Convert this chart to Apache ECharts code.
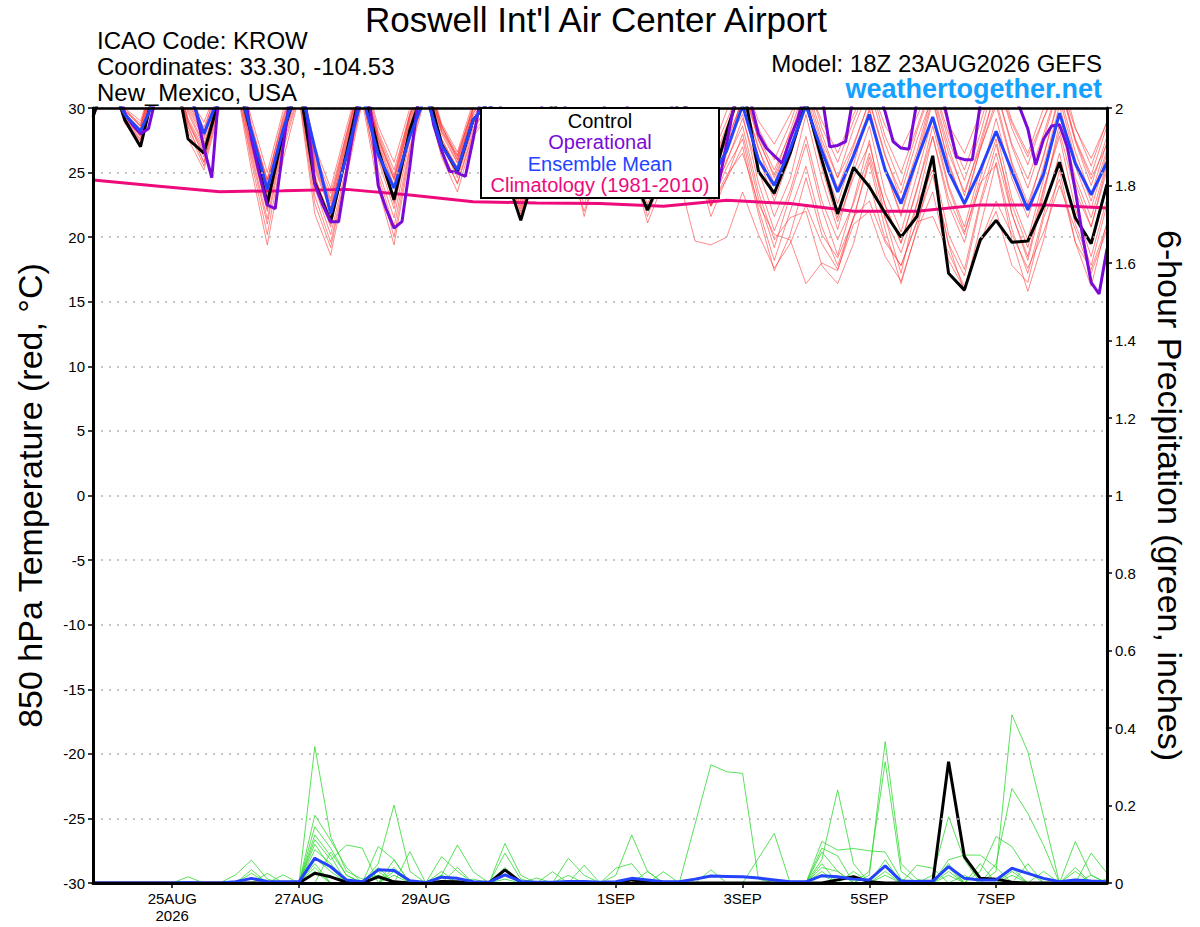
<!DOCTYPE html>
<html>
<head>
<meta charset="utf-8">
<script src="https://cdn.jsdelivr.net/npm/echarts@6/dist/echarts.min.js"></script>
<style>html,body{margin:0;padding:0;background:#fff}#c{width:1200px;height:927px}</style>
</head>
<body>
<div id="c"></div>
<script>
// ---------- DATA ----------
const titleText = "Roswell Int'l Air Center Airport";
const infoLeft = ["ICAO Code: KROW", "Coordinates: 33.30, -104.53", "New_Mexico, USA"];
const modelText = "Model: 18Z 23AUG2026 GEFS";
const siteText = "weathertogether.net";
const legendLabels = ["Control", "Operational", "Ensemble Mean", "Climatology (1981-2010)"];
const leftAxisName = "850 hPa Temperature (red, \u00B0C)";
const rightAxisName = "6-hour Precipitation (green, inches)";
// forecast hours from 18Z 23AUG2026
const xTickHours = [30, 78, 126, 198, 246, 294, 342];
const xTickLabels = ["25AUG\n2026", "27AUG", "29AUG", "1SEP", "3SEP", "5SEP", "7SEP"];

// 6-hourly 850 hPa temperature (65 points)
const controlTemp = [29.3, 33,29.1,27.0,32.2, 34,27.6,26.5,30.9, 32.8,27.9,22.6,28.1, 32.0,24.2,21.2,26.5, 32,26.8,22.9,28.3, 32,27.2,25.1,29.1, 30.5,25,21.3,25.5, 30.5,28.5,25.5,27, 30,25,22.1,25, 31,28.5,23.9,28.2, 32,25.1,23.4,26.5, 30.5,26,21.8,25.4, 23.9,21.85,20.0,21.6, 26.3,17.2,15.9,19.8, 21.3,19.6,19.7,22.4, 25.8,21.5,19.5,24.1];
const meanTemp = [30.2, 32,29.5,28.2,31, 32.5,31.5,28.0,31, 32.5,28.2,23.7,28.3, 32,26.9,21.8,26.3, 31,26.4,23.8,27.8, 31,27.1,25.2,29.1, 30.5,28,25,27.5, 30,28,26,28, 30,28,25,27.5, 30,28,24.5,26.7, 30.2,26.0,24.0,26.8, 30.2,26.7,23.5,26.3, 29.5,25.2,22.6,26.0, 29.3,25.1,22.6,25.2, 28.2,25.1,22.1,24.9, 29.6,25.7,23.3,25.8];
// operational run, 3-hourly (129 points)
const operationalTemp = [30.5,32, 33,32, 29.6,28.7, 28.0,28.4, 31,33, 34,33, 31,29.8, 26.9,24.6, 32,33, 33,32, 27.6,24.9, 22.5,22.2, 27,31.5, 33,29.5, 24.1,22.5, 21.2,21.2, 25.0,28.8, 32,30, 24.0,22.2, 20.7,21.2, 25.5,30.5, 32,28.7, 26.7,25.1, 25.0,24.7, 27.6,31, 32,31, 29,27.5, 26,26.5, 28.5,31, 32,31, 29.5,28, 27,27, 29,31, 32,31, 29,27.5, 26,25.5, 27.5,30, 31.5,30, 28,26.5, 25,24.2, 27.3,30.5, 32,30.5, 28.0,26.9, 26.3,25.7, 27.6,29.2, 31.5,32, 31,27.0, 27.1,27.4, 31,32.5, 32.5,31.5, 29.7,27.4, 26.9,26.8, 30.5,32, 33,31.5, 28.8,26.2, 26.0,26.0, 30.3,32, 32.5,32, 31,30, 28.4,25.6, 27.6,28.6, 28.7,27, 23.6,19.8, 16.5,15.6, 19.1];
// climatology, daily (17 points)
const climTemp = [24.43, 23.97, 23.52, 23.6, 23.7, 23.27, 22.75, 22.65, 22.6, 22.4, 22.85, 22.6, 22.0, 22.0, 22.5, 22.5, 22.25];

const memberTemp1 = [29.5, 33,29.6,28.4,32.5, 34,31,28.9,32, 33,28.5,24.5,29, 33,27,23.8,28.5, 33,28.2,25.2,29.5, 32.5,28.2,26.3,30.2, 32,28.5,25.6,28.8, 32,29.5,26.8,29.2, 31.5,28.6,26.4,29.5, 32,29.2,26.5,29.8, 32.5,29,27.2,29.5, 32,29,26.5,29.5, 32,28.6,26.8,29.3, 32.5,28.7,26.5,29.6, 32.2,28.8,26.2,29.2, 32,28.4,26.1,28.9];
const memberTemp2 = [29.4, 33,29.4,28.0,32.3, 33.8,29,26.2,30.5, 32.5,26.5,21.4,27.5, 31.5,23.8,20.2,25.5, 31.5,25.2,21.5,27.6, 31.8,27.3,24.6,28.5, 30.2,26.3,22.4,26.5, 29.5,26,23.5,26.5, 29,25.5,22.6,25.2, 24.5,19.7,19.4,20.0, 23.5,20.2,17.6,19.5, 22.5,19.5,17.5,21.0, 22.0,18.5,16.6,20.5, 23.5,18.2,16.0,19.5, 22.0,17.8,16.5,21.5, 24.5,19.6,17.5,21];
const memberTemp3 = [29.2, 32.8,29.2,27.6,31.8, 33.5,28.5,25.8,30.8, 33,28,23.5,28.6, 32.5,25.6,22.3,27.2, 32.2,27.8,24.5,28.8, 32.2,28,25.7,29.4, 31,27.6,23.5,27.6, 30.8,28.2,24.8,27.8, 30.6,27.8,23.8,27.3, 30.8,27.5,22.8,26.5, 31,26.8,24.2,27.8, 31.5,27.5,24.6,27.2, 30.5,26.2,23.4,27.5, 31,26.5,23.5,27, 31.5,27.2,24.5,28, 32,27.5,24.5,27.2];
const memberTemp4 = [29.6, 33.2,29.8,28.8,32.8, 34,30.2,27.8,31.5, 33.2,27.5,22.8,28, 31.8,24.5,21.6,26.8, 32,26.4,23,28.6, 32,27.6,25.4,29.8, 31.5,27.8,24.2,28.2, 30.5,27.2,23.6,27, 30.8,27.2,24.6,28, 31.2,28,25.6,27.4, 29.5,24.2,20.5,23.6, 27.8,22.8,19.8,22.6, 26.5,22.5,19.5,23.8, 27.8,23,20.2,24.6, 29.2,24.5,21.5,25.5, 30.2,25.5,22.2,26.5];
const memberTemp5 = [29.3, 32.6,29,27.4,31.5, 33.2,28.2,25.5,30.2, 32.2,25.8,20.2,26.8, 31,22.6,19.2,25, 31,24.5,20,26.8, 31.2,26.6,24.2,28.2, 30.5,26.8,22.8,27, 31,28,24.2,27.5, 30.2,27,23.5,26.4, 30,26.2,22.4,26, 28.6,23.5,19.8,21.5, 22,17.8,16.4,19.5, 24.2,19.8,17.8,21.2, 24.8,19.5,17,22.5, 26.5,21.8,18.5,23.6, 28.2,23.5,20.8,25.2];
const memberTemp6 = [29.8, 33.5,30,28.6,33, 34.5,30.5,28.2,32.2, 33.8,29.2,25,29.8, 33.2,26.5,23.4,28, 33,28.6,25.8,30, 33,28.8,26.6,30.5, 32.5,29,26,29.6, 32.6,29.8,26.9,29.5, 32,29.4,26.8,30, 32.8,30,26.2,29, 32,28.4,26,28.8, 32.5,28.5,25.8,29, 32,27.8,25,28.5, 32,28,25.2,28.8, 33,29,26.5,30, 33,28.5,25.5,29];
const memberTemp7 = [29.1, 32.5,28.8,27.2,31.6, 33,27.6,25.2,30, 32,26.2,21,27.2, 31.2,23.2,19.6,25.2, 30.8,24.8,20.8,27, 31.4,26.8,24.1,28, 29.8,25.8,21.8,26.2, 29.2,25.4,22,25.8, 29.5,25.8,21.6,25, 29.6,26.5,22.5,25.4, 27.6,22.2,18.2,22, 25.5,20.8,17.8,21.5, 25.8,20.6,16.4,20.6, 26,20.2,17.5,22.8, 27.2,22.5,19.2,23.8, 27.8,22.2,18.5,23];
const memberTemp8 = [29.5, 33,29.5,28.2,32.2, 33.8,29.6,27,31.2, 32.8,27.8,23.2,28.4, 32.2,25.2,22,27, 32.5,27.4,24,29.2, 32.2,28.4,26,29.6, 31.5,28.2,25,28.5, 31,27,21.6,26.2, 30,26.8,23,27.2, 31,27.6,23.8,27.2, 30.8,27,23.2,26.8, 30.5,25.8,21.5,25.6, 30,25.2,21.8,26.2, 30.8,25.6,22.5,26.8, 30.6,25.8,22.6,26.2, 31.2,26.6,23.2,27.4];
const memberTemp9 = [29.7, 33.4,30,29,33, 34.2,30.6,28.5,31.8, 33.5,28.8,24.2,29.2, 32.8,26,22.8,27.8, 32.5,28,24.8,29.6, 32.8,28.6,26.2,30, 32,28.3,25.2,29, 31.8,28.8,26,28.6, 31.2,28.2,25.5,28.8, 31.5,28.5,25,28.4, 32,27.5,24.8,28.2, 31.8,28,24.6,28.4, 31.5,27.2,24,28.2, 31.8,27.5,24.4,28, 32.5,28.4,25.6,29.2, 32.2,27.6,24.8,28.6];
const memberTemp10 = [29.4, 32.8,29.3,27.8,32, 33.4,29,26.6,30.6, 32.6,27,22.2,27.8, 31.6,24,20.8,26.2, 31.8,26,22.2,28, 31.6,27,24.8,28.8, 30.8,27,23,27.2, 30.2,26.8,23.2,26.8, 29.2,25.6,21.1,24.2, 28.4,25,22.4,24.5, 27,21.8,17.4,20.2, 24.6,20.2,18.4,21.4, 26.2,21.4,18.8,22.6, 25.2,19.4,15.8,20.8, 25.8,20.6,17.2,21.8, 26.5,21,17.8,22.5];
const memberTemp11 = [29.2, 32.7,29.1,27.5,31.8, 33.6,28.8,26.4,31, 32.4,26.8,22,27.6, 32,24.8,21,26.8, 32,26.6,22.6,28.2, 31.8,27.4,25,29, 30.6,26.5,22.2,26.8, 30.6,27.4,24,27.2, 30.4,27.2,23.2,26.8, 30.2,27,23.2,25.8, 29.2,25.2,21.6,24.5, 29.5,24.5,20.6,25, 28.6,23.4,20.4,24.8, 29.2,24,20.8,25.2, 28.2,23,19.8,24.5, 29.6,24.6,21.5,25.8];
const memberTemp12 = [29.6, 33.2,29.8,28.6,32.6, 34,30,27.6,31.6, 33,28.2,24,28.8, 32.6,25.8,22.6,27.6, 32.8,27.6,24.4,29.4, 32.6,28.6,26.4,30, 31.8,28,24.6,28.4, 31.6,28.4,25.4,28.2, 31.4,28.4,25.6,28.6, 31.6,28.2,24.8,28, 31.5,27.6,24.6,27.5, 31,27.2,23.8,27, 30.6,26.4,22.8,26.6, 31.2,27,23.2,27.4, 31.4,27,23.8,27.6, 31.8,27.4,24,27.8];
const memberTemp13 = [29.3, 32.9,29.2,27.8,32, 33.5,28.6,25.8,30.4, 32,25.2,19.4,26, 30.8,21.8,18.6,24.6, 30.5,23.8,19.4,26.4, 31,26.2,23.5,27.8, 29.5,25.5,22,26, 30,26.5,22.5,26.4, 29.8,26.4,23,26.2, 29.8,26,21.6,24.6, 28,23,19.2,23.2, 27.2,22.2,18.6,22.8, 27.5,21.5,17.2,22.6, 27.8,22.5,19.6,24.2, 25.6,19.8,15.8,19.8, 25.2,19.6,16.2,21.2];
const memberTemp14 = [29.5, 33.1,29.6,28.3,32.4, 33.9,29.8,27.2,31.2, 33,28.3,23.8,28.7, 32.4,25.4,22.2,27.4, 32.4,27.2,23.8,29, 32.4,28.2,25.8,29.6, 31.2,27.4,23.8,28, 31.2,28,25,27.8, 31,28,25,28.2, 31,27.8,24.2,27.6, 30.5,26.2,22.8,26.2, 30.2,26,22.6,26.6, 29.8,25.2,21.6,25.8, 30.5,25.8,22.4,26.8, 30.2,25.6,22.2,26.4, 30.8,26,22.8,26.8];
const memberTemp15 = [29.4, 32.8,29.4,28,32, 33.6,29.2,26.8,30.8, 32.6,27.2,22.4,28, 31.8,24.6,21.4,26.6, 31.6,26.2,22.8,27.8, 31.8,27.6,25.2,29.2, 30.8,27.2,23.4,27.6, 31.2,28,24.6,27.6, 30.2,27.4,23.6,27, 30.4,27.2,22.4,24.8, 26.5,22.6,20.2,19.8, 16.4,18,17.4,21.6, 22.8,19.6,17.8,21.2, 21.6,18.8,16.2,19.6, 22.8,20.2,17.6,20.4, 24,20.6,17.2,20.6];
const memberTemp16 = [29.6, 33.2,29.8,28.6,32.6, 34,30.4,28,31.8, 33.4,28.4,24.4,29.4, 32.8,26.2,23,28, 32.6,27.6,24.6,29.4, 32.6,28.6,26,30, 31.6,27.6,24.2,28.4, 31,28.2,25.2,28, 31,28,24.6,28.4, 31.2,28.4,25.4,28.6, 31.8,27.8,25.2,28, 30.4,25.4,21.2,24.6, 27.2,22.4,19.6,23.6, 28.6,23.8,20.4,24, 27.6,21.8,18.2,23.2, 28.8,24.2,20.8,25.6];
const memberTemps = [memberTemp1, memberTemp2, memberTemp3, memberTemp4, memberTemp5, memberTemp6, memberTemp7, memberTemp8, memberTemp9, memberTemp10, memberTemp11, memberTemp12, memberTemp13, memberTemp14, memberTemp15, memberTemp16];

// 6-hourly precipitation (inches, 65 points)
const controlPrecip = [0, 0,0,0,0, 0,0,0,0, 0,0,0,0, 0,0.025,0.016,0.002, 0,0.016,0.003,0, 0,0.004,0.003,0, 0,0.034,0.002,0, 0,0,0,0, 0,0.008,0.003,0, 0,0,0,0, 0,0,0,0, 0,0,0.008,0.016, 0.003,0,0,0, 0,0.313,0.068,0.012, 0.010,0.002,0,0, 0,0,0,0];
const meanPrecip = [0, 0,0,0,0, 0,0.001,0,0, 0.003,0.012,0.004,0.003, 0.003,0.064,0.042,0.008, 0.003,0.034,0.032,0.006, 0.001,0.015,0.012,0.003, 0.002,0.021,0.004,0.002, 0.002,0.004,0.004,0.002, 0.003,0.012,0.008,0.003, 0.003,0.010,0.018,0.017, 0.016,0.013,0.008,0.003, 0.003,0.019,0.016,0.010, 0.008,0.044,0.005,0.004, 0.005,0.042,0.012,0.008, 0.008,0.038,0.025,0.012, 0.003,0.008,0.005,0.003];
const memberPrecip1 = [0, 0,0,0,0, 0,0,0,0, 0,0,0,0, 0,0.352,0.12,0.03, 0.01,0.02,0.005,0, 0,0,0,0, 0,0.01,0,0, 0,0,0,0, 0,0,0,0, 0,0,0,0, 0,0,0,0, 0,0.02,0,0, 0,0.02,0,0, 0,0,0,0, 0,0,0,0, 0,0,0,0];
const memberPrecip2 = [0, 0,0,0,0, 0,0,0,0, 0,0.034,0,0, 0,0.175,0.11,0.04, 0,0.03,0,0, 0,0,0,0, 0,0,0,0, 0,0,0,0, 0,0,0,0, 0,0,0,0, 0,0,0,0, 0,0,0,0, 0,0,0,0, 0,0.03,0,0, 0.03,0.434,0.339,0.171, 0,0.01,0,0];
const memberPrecip3 = [0, 0,0,0,0, 0,0,0,0, 0,0,0,0, 0,0.145,0.09,0.02, 0,0.05,0.201,0.03, 0,0,0,0, 0,0,0,0, 0,0,0,0, 0,0,0,0, 0,0,0,0, 0,0,0,0, 0,0.03,0,0, 0.02,0.365,0.05,0.01, 0,0,0,0, 0,0,0,0, 0,0,0,0];
const memberPrecip4 = [0, 0,0,0,0, 0,0,0,0, 0,0,0.025,0, 0,0.124,0.07,0, 0,0,0,0, 0,0.02,0,0, 0,0,0,0, 0,0.02,0,0, 0,0,0,0, 0,0.152,0.305,0.287, 0.283,0.01,0,0, 0,0,0,0, 0,0,0,0, 0,0.02,0,0, 0,0,0,0, 0,0,0,0];
const memberPrecip5 = [0, 0,0,0,0, 0,0,0,0, 0,0.025,0,0, 0,0.112,0.06,0.098, 0.09,0,0.04,0, 0,0,0,0, 0,0,0,0, 0,0,0,0, 0,0,0,0, 0,0,0,0, 0,0,0,0, 0,0.06,0.24,0.05, 0,0,0,0, 0,0,0.02,0, 0,0,0,0, 0,0,0,0];
const memberPrecip6 = [0, 0,0,0,0, 0,0,0,0, 0,0,0,0, 0,0.086,0.05,0, 0,0.094,0.06,0, 0,0,0,0, 0,0.04,0,0, 0,0,0,0, 0,0,0,0, 0,0,0,0, 0,0,0,0, 0,0.04,0.03,0, 0.03,0.313,0.03,0, 0.02,0.171,0.06,0, 0,0.04,0,0, 0,0,0,0];
const memberPrecip7 = [0, 0,0,0,0, 0,0,0,0, 0.021,0.059,0.01,0, 0,0.064,0.03,0, 0,0,0,0, 0,0.02,0.098,0.029, 0,0,0,0, 0,0,0,0, 0.02,0.124,0.03,0, 0,0,0,0, 0,0,0,0, 0,0,0,0, 0,0,0,0, 0,0,0,0, 0,0.03,0,0, 0,0,0.02,0];
const memberPrecip8 = [0, 0,0,0,0, 0,0,0,0, 0,0,0,0, 0,0,0,0, 0,0,0,0, 0,0,0,0, 0,0.102,0.02,0, 0,0.064,0.02,0, 0,0,0,0, 0,0,0,0, 0,0.064,0.128,0, 0,0,0,0, 0,0,0,0, 0,0,0,0, 0.05,0.244,0.18,0.097, 0,0,0,0];
const memberPrecip9 = [0, 0,0,0,0, 0,0.016,0,0, 0,0,0,0, 0,0.03,0,0, 0,0,0.06,0, 0,0.068,0.03,0, 0,0,0,0, 0,0,0,0, 0,0,0,0, 0,0,0,0, 0,0,0,0, 0,0.107,0.085,0.089, 0.083,0.08,0.01,0, 0,0,0,0, 0,0,0,0, 0,0.03,0,0];
const memberPrecip10 = [0, 0,0,0,0, 0,0,0,0, 0,0,0,0.021, 0,0.05,0,0, 0,0,0,0.081, 0,0,0,0, 0,0,0,0, 0,0,0,0, 0.038,0.05,0,0, 0,0,0,0, 0,0,0,0, 0,0,0,0, 0,0,0,0, 0,0,0,0.03, 0.12,0.094,0.03,0, 0,0.107,0.02,0];
const memberPrecip11 = [0, 0,0,0,0, 0,0,0,0, 0,0,0,0, 0,0,0.08,0.02, 0,0,0.03,0, 0,0,0,0.01, 0,0,0,0, 0,0,0.046,0, 0,0,0.03,0, 0,0,0,0, 0,0,0,0, 0,0.05,0,0, 0,0,0,0, 0,0.06,0.072,0.072, 0.04,0,0,0, 0,0,0.077,0.025];
const memberPrecip12 = [0, 0,0,0,0, 0,0,0,0, 0,0,0,0, 0,0.04,0,0, 0,0.02,0,0, 0,0,0,0, 0,0.077,0.01,0, 0.029,0,0,0, 0,0,0,0.029, 0,0,0.034,0, 0,0,0,0, 0,0,0,0.03, 0,0,0,0.046, 0.038,0,0,0, 0,0,0.05,0, 0,0,0,0.01];
const memberPrecip13 = [0, 0,0,0,0, 0,0,0,0, 0,0,0,0, 0,0,0,0, 0,0,0.02,0, 0,0,0.04,0, 0,0,0,0.013, 0,0,0,0, 0,0,0,0, 0,0,0,0, 0,0,0,0, 0,0.08,0.03,0, 0,0.06,0,0, 0,0.04,0,0, 0,0.02,0,0.03, 0,0,0,0];
const memberPrecip14 = [0, 0,0,0,0, 0,0,0,0, 0,0,0,0, 0,0.1,0.04,0, 0,0.04,0,0, 0,0.03,0,0, 0,0,0,0, 0,0,0,0, 0,0,0,0, 0,0,0,0, 0,0,0,0, 0,0.09,0.07,0, 0,0.03,0,0, 0,0.05,0,0.05, 0,0,0,0, 0,0.04,0,0];
const memberPrecips = [memberPrecip1, memberPrecip2, memberPrecip3, memberPrecip4, memberPrecip5, memberPrecip6, memberPrecip7, memberPrecip8, memberPrecip9, memberPrecip10, memberPrecip11, memberPrecip12, memberPrecip13, memberPrecip14];

// ---------- CHART ----------
const FONT = '"Liberation Sans", Arial, Helvetica, sans-serif';
const C_CONTROL = '#000000', C_OPER = '#7a0ad8', C_MEAN = '#2443ff', C_CLIM = '#ee0a7c';
const C_RED = 'rgba(255,50,50,0.72)', C_GREEN = 'rgba(40,215,40,0.85)';

const withHours = (arr, step) => arr.map((v, i) => [i * step, v]);

const series = [];
memberTemps.forEach((m, k) => series.push({
  name: 'tmem' + k, type: 'line', yAxisIndex: 0, data: withHours(m, 6),
  symbol: 'none', lineStyle: { color: C_RED, width: 0.8 }, z: 2, silent: true
}));
memberPrecips.forEach((m, k) => series.push({
  name: 'pmem' + k, type: 'line', yAxisIndex: 1, data: withHours(m, 6),
  symbol: 'none', lineStyle: { color: C_GREEN, width: 0.9 }, z: 2, silent: true
}));
series.push({ name: 'clim', type: 'line', yAxisIndex: 0, data: withHours(climTemp, 24), symbol: 'none', lineStyle: { color: C_CLIM, width: 3 }, z: 3 });
series.push({ name: 'controlP', type: 'line', yAxisIndex: 1, data: withHours(controlPrecip, 6), symbol: 'none', lineStyle: { color: C_CONTROL, width: 3 }, z: 4 });
series.push({ name: 'meanP', type: 'line', yAxisIndex: 1, data: withHours(meanPrecip, 6), symbol: 'none', lineStyle: { color: C_MEAN, width: 3 }, z: 5 });
series.push({ name: 'control', type: 'line', yAxisIndex: 0, data: withHours(controlTemp, 6), symbol: 'none', lineStyle: { color: C_CONTROL, width: 3 }, z: 4 });
series.push({ name: 'oper', type: 'line', yAxisIndex: 0, data: withHours(operationalTemp, 3), symbol: 'none', lineStyle: { color: C_OPER, width: 3 }, z: 5 });
series.push({ name: 'mean', type: 'line', yAxisIndex: 0, data: withHours(meanTemp, 6), symbol: 'none', lineStyle: { color: C_MEAN, width: 3 }, z: 6 });

const legendColors = [C_CONTROL, C_OPER, C_MEAN, C_CLIM];
const graphics = [
  { type: 'text', x: 596, y: 19, z: 100, style: { text: titleText, font: '35px ' + FONT, fill: '#000', textAlign: 'center', textVerticalAlign: 'middle' } },
  { type: 'text', x: 97, y: 40, z: 100, style: { text: infoLeft[0], font: '24px ' + FONT, fill: '#000', textAlign: 'left', textVerticalAlign: 'middle' } },
  { type: 'text', x: 97, y: 66, z: 100, style: { text: infoLeft[1], font: '24px ' + FONT, fill: '#000', textAlign: 'left', textVerticalAlign: 'middle' } },
  { type: 'text', x: 97, y: 92, z: 100, style: { text: infoLeft[2], font: '24px ' + FONT, fill: '#000', textAlign: 'left', textVerticalAlign: 'middle' } },
  { type: 'text', x: 1102, y: 63, z: 100, style: { text: modelText, font: '24px ' + FONT, fill: '#000', textAlign: 'right', textVerticalAlign: 'middle' } },
  { type: 'text', x: 1102, y: 89, z: 100, style: { text: siteText, font: 'bold 27px ' + FONT, fill: '#14a0ff', textAlign: 'right', textVerticalAlign: 'middle' } },
  { type: 'rect', z: 100, shape: { x: 481, y: 108, width: 238, height: 90 }, style: { fill: '#fff', stroke: '#000', lineWidth: 2 } }
];
legendLabels.forEach((t, k) => graphics.push({
  type: 'text', x: 600, y: 121 + k * 21.3, z: 101,
  style: { text: t, font: '20px ' + FONT, fill: legendColors[k], textAlign: 'center', textVerticalAlign: 'middle' }
}));

const labelMap = {};
xTickHours.forEach((h, k) => { labelMap[h] = xTickLabels[k]; });

const option = {
  animation: false,
  backgroundColor: '#fff',
  textStyle: { fontFamily: FONT },
  grid: { left: 93, right: 93, top: 108, bottom: 44, show: false },
  xAxis: [
    {
      type: 'value', min: 0, max: 384, position: 'bottom',
      axisLine: { show: true, onZero: false, lineStyle: { color: '#000', width: 3 } },
      axisTick: { show: true, customValues: xTickHours, length: 5, lineStyle: { color: '#000', width: 1.5 } },
      axisLabel: { customValues: xTickHours, formatter: v => labelMap[v] || '', color: '#000', fontSize: 15, lineHeight: 17, margin: 7, fontFamily: FONT },
      splitLine: { show: false }, z: 20
    },
    {
      type: 'value', min: 0, max: 384, position: 'top',
      axisLine: { show: true, onZero: false, lineStyle: { color: '#000', width: 2.5 } },
      axisTick: { show: false }, axisLabel: { show: false }, splitLine: { show: false }, z: 20
    }
  ],
  yAxis: [
    {
      type: 'value', min: -30, max: 30, interval: 5, position: 'left',
      name: leftAxisName, nameLocation: 'middle', nameGap: 46, nameRotate: 90,
      nameTextStyle: { fontSize: 34, color: '#000', fontFamily: FONT },
      axisLine: { show: true, onZero: false, lineStyle: { color: '#000', width: 3 } },
      axisTick: { show: true, length: 5, lineStyle: { color: '#000', width: 1.5 } },
      axisLabel: { color: '#000', fontSize: 15, margin: 8, fontFamily: FONT },
      splitLine: { show: true, lineStyle: { color: '#b4b4b4', type: [2, 6], width: 1.5 } }, z: 20
    },
    {
      type: 'value', min: 0, max: 2, interval: 0.2, position: 'right',
      name: rightAxisName, nameLocation: 'middle', nameGap: 46, nameRotate: -90,
      nameTextStyle: { fontSize: 34, color: '#000', fontFamily: FONT },
      axisLine: { show: true, onZero: false, lineStyle: { color: '#000', width: 3 } },
      axisTick: { show: true, length: 5, lineStyle: { color: '#000', width: 1.5 } },
      axisLabel: { color: '#000', fontSize: 15, margin: 8, fontFamily: FONT, formatter: v => String(Math.round(v * 10) / 10) },
      splitLine: { show: false }, z: 20
    }
  ],
  graphic: graphics,
  series: series
};

const chart = echarts.init(document.getElementById('c'), null, { renderer: 'svg', width: 1200, height: 927 });
chart.setOption(option);
</script>
</body>
</html>
